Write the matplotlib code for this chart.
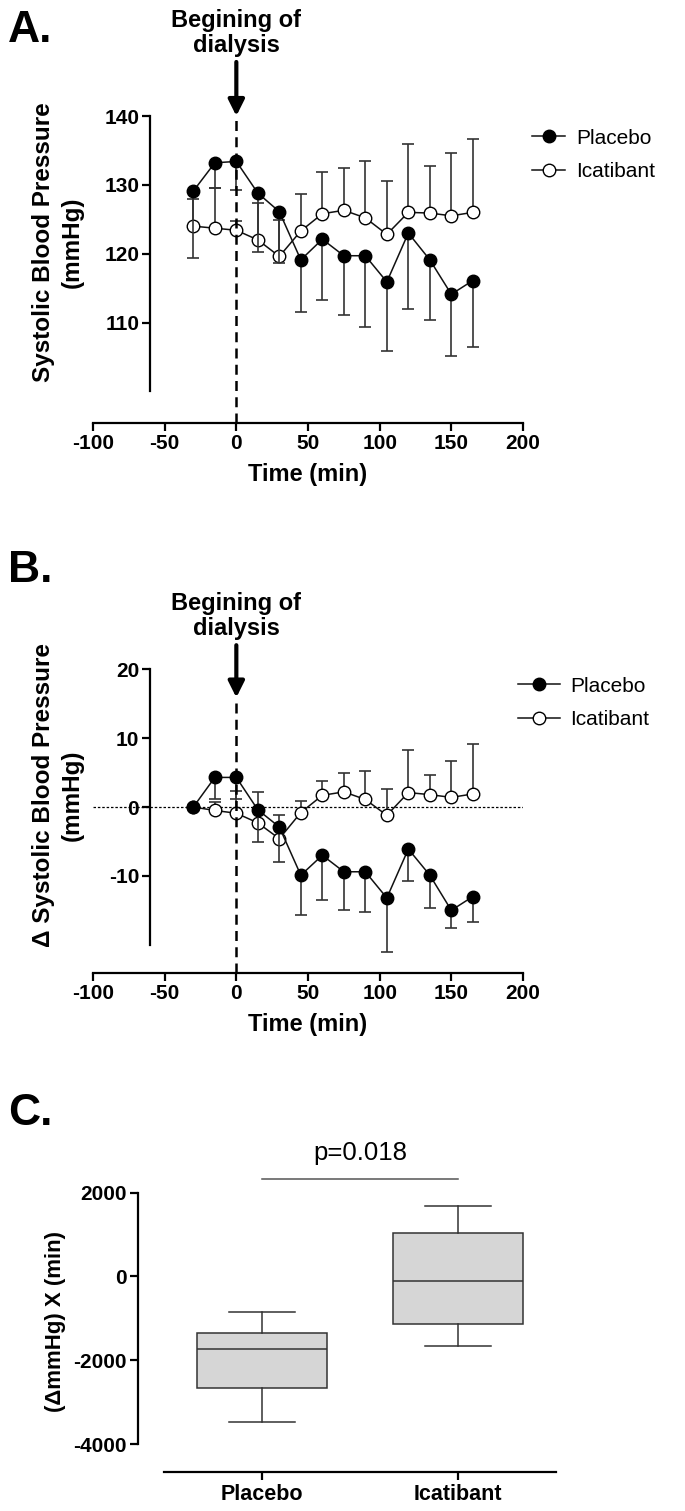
import numpy as np
import matplotlib
matplotlib.use("Agg")
import matplotlib.pyplot as plt
from matplotlib.lines import Line2D

plt.rcParams["font.family"] = ["Liberation Sans", "DejaVu Sans"]
plt.rcParams["axes.unicode_minus"] = False

W, H = 685, 1511

time = [-30, -15, 0, 15, 30, 45, 60, 75, 90, 105, 120, 135, 150, 165]

# panel A: systolic blood pressure (mmHg), mean and one-sided error ends
sbp_placebo = [129.1, 133.2, 133.4, 128.8, 126.1, 119.1, 122.1, 119.7, 119.7, 115.9, 123.0, 119.1, 114.1, 116.1]
sbp_placebo_low = [119.4, 129.6, 129.2, 120.3, 118.7, 111.5, 113.3, 111.1, 109.4, 105.9, 111.9, 110.4, 105.1, 106.5]
sbp_icatibant = [124.0, 123.7, 123.4, 122.0, 119.6, 123.3, 125.8, 126.3, 125.2, 122.8, 126.0, 125.9, 125.5, 126.0]
sbp_icatibant_high = [128.0, 129.6, 124.8, 127.3, 124.9, 128.6, 131.9, 132.5, 133.5, 130.5, 135.9, 132.7, 134.6, 136.7]

# panel B: change in systolic blood pressure (mmHg)
dsbp_placebo = [0.0, 4.3, 4.3, -0.4, -2.9, -9.9, -7.0, -9.4, -9.4, -13.2, -6.1, -9.9, -15.0, -13.0]
dsbp_placebo_low = [0.0, 1.2, 1.2, -5.1, -8.0, -15.7, -13.5, -14.9, -15.3, -21.0, -10.7, -14.7, -17.5, -16.7]
dsbp_icatibant = [0.0, -0.5, -0.9, -2.3, -4.6, -0.8, 1.7, 2.2, 1.1, -1.2, 2.1, 1.8, 1.4, 1.9]
dsbp_icatibant_high = [0.0, 0.7, 2.4, 2.2, -1.2, 0.9, 3.8, 5.0, 5.2, 2.6, 8.3, 4.6, 6.7, 9.1]

# panel C: area (dmmHg x min)
groups = ["Placebo", "Icatibant"]
box_whislo = [-3480, -1666]
box_q1 = [-2668, -1134]
box_med = [-1738, -100]
box_q3 = [-1356, 1031]
box_whishi = [-855, 1683]
p_text = "p=0.018"

fig = plt.figure(figsize=(W / 100, H / 100), dpi=100)


def fx(px):
    return px / W


def fy(py):
    return 1 - py / H


def axes_px(left, top, right, bottom):
    return fig.add_axes([left / W, 1 - bottom / H, (right - left) / W, (bottom - top) / H])


ERR = "#333333"
LINE = "#111111"


def style_axes(ax):
    for s in ["top", "right"]:
        ax.spines[s].set_visible(False)
    for s in ["left", "bottom"]:
        ax.spines[s].set_linewidth(1.6)
    ax.tick_params(direction="out", length=6, width=1.6, labelsize=15, pad=2)
    for lab in ax.get_xticklabels() + ax.get_yticklabels():
        lab.set_fontweight("bold")


def timecourse(ax, pl, pl_low, ic, ic_high, ylim, spine, yticks, arrow, text_y):
    z = np.zeros(len(time))
    pl, pl_low, ic, ic_high = map(np.asarray, (pl, pl_low, ic, ic_high))
    ax.errorbar(time, ic, yerr=[z, ic_high - ic], fmt="none", ecolor=ERR,
                elinewidth=1.2, capsize=4.5, capthick=1.2, zorder=2)
    ax.plot(time, ic, "-o", color=LINE, lw=1.1, ms=9, mfc="white", mec="black",
            mew=1.0, zorder=3)
    ax.errorbar(time, pl, yerr=[pl - pl_low, z], fmt="none", ecolor=ERR,
                elinewidth=1.2, capsize=4.5, capthick=1.2, zorder=4)
    ax.plot(time, pl, "-o", color=LINE, lw=1.1, ms=9, mfc="black", mec="black",
            zorder=5)
    ax.set_xlim(-100, 200)
    ax.set_ylim(*ylim)
    ax.vlines(0, ylim[0], arrow[1], colors="black", linestyles=(0, (4, 2.5)),
              lw=1.8, zorder=6)
    ax.annotate("", xy=(0, arrow[1]), xytext=(0, arrow[0]), annotation_clip=False,
                arrowprops=dict(arrowstyle="-|>", lw=3, color="black",
                                mutation_scale=24, shrinkA=0, shrinkB=0))
    ax.text(0, text_y, "Begining of\ndialysis", ha="center", va="bottom",
            fontsize=17, fontweight="bold", clip_on=False, linespacing=1.1)
    ax.spines["left"].set_position(("data", -60))
    ax.spines["left"].set_bounds(*spine)
    ax.spines["bottom"].set_bounds(-100, 200)
    ax.set_yticks(yticks)
    ax.set_xticks(range(-100, 201, 50))
    style_axes(ax)
    ax.set_xlabel("Time (min)", fontsize=17, fontweight="bold", labelpad=7)
    handles = [Line2D([], [], color=LINE, lw=1.1, marker="o", ms=9, mfc="black", mec="black"),
               Line2D([], [], color=LINE, lw=1.1, marker="o", ms=9, mfc="white", mec="black")]
    return handles


# ---- A ----
axA = axes_px(93, 116, 523, 423)
hA = timecourse(axA, sbp_placebo, sbp_placebo_low, sbp_icatibant, sbp_icatibant_high,
                (95.4, 140), (100, 140), [110, 120, 130, 140], (147.85, 140), 148.6)
axA.legend(hA, groups, loc="center left", bbox_to_anchor=(fx(532), fy(155)),
           bbox_transform=fig.transFigure, frameon=False, fontsize=15,
           handlelength=1.6, handletextpad=0.5, labelspacing=0.7,
           borderpad=0, borderaxespad=0)
fig.text(fx(8), fy(42), "A.", fontsize=32, fontweight="bold", va="baseline")
fig.text(fx(58), fy(242), "Systolic Blood Pressure\n(mmHg)", rotation=90,
         ha="center", va="center", multialignment="center", fontsize=17.5,
         fontweight="bold", linespacing=1.3)

# ---- B ----
axB = axes_px(93, 669.3, 523, 973)
hB = timecourse(axB, dsbp_placebo, dsbp_placebo_low, dsbp_icatibant, dsbp_icatibant_high,
                (-24.1, 20), (-20, 20), [-10, 0, 10, 20], (23.5, 15.9), 24.3)
axB.axhline(0, color="black", lw=0.9, ls=(0, (2, 1.5)), zorder=1)
axB.legend(hB, groups, loc="center left", bbox_to_anchor=(fx(518), fy(703)),
           bbox_transform=fig.transFigure, frameon=False, fontsize=15,
           handlelength=2.0, handletextpad=0.5, labelspacing=0.7,
           borderpad=0, borderaxespad=0)
fig.text(fx(8), fy(582), "B.", fontsize=32, fontweight="bold", va="baseline")
fig.text(fx(58), fy(795), "\u0394 Systolic Blood Pressure\n(mmHg)", rotation=90,
         ha="center", va="center", multialignment="center", fontsize=17.5,
         fontweight="bold", linespacing=1.3)

# ---- C ----
axC = axes_px(137.7, 1192.7, 556, 1472)
stats = [dict(label=g, whislo=lo, q1=a, med=m, q3=b, whishi=hi)
         for g, lo, a, m, b, hi in zip(groups, box_whislo, box_q1, box_med, box_q3, box_whishi)]
axC.bxp(stats, positions=[0, 1], widths=0.66, capwidths=0.34, patch_artist=True,
        showfliers=False,
        boxprops=dict(facecolor="#d6d6d6", edgecolor="#333333", lw=1.1),
        medianprops=dict(color="#333333", lw=1.1),
        whiskerprops=dict(color="#333333", lw=1.1),
        capprops=dict(color="#333333", lw=1.1))
axC.set_xlim(-0.634, 1.5)
axC.set_ylim(-4666, 2000)
axC.spines["left"].set_bounds(-4000, 2000)
axC.spines["bottom"].set_bounds(-0.5, 1.5)
axC.set_yticks([-4000, -2000, 0, 2000])
axC.set_xticks([0, 1])
axC.set_xticklabels(groups)
style_axes(axC)
axC.tick_params(axis="x", labelsize=15.5, pad=3)
axC.plot([0, 1], [2327, 2327], color="#555555", lw=1.1, clip_on=False)
axC.text(0.5, 2780, p_text, ha="center", va="baseline", fontsize=18.5, clip_on=False)
fig.text(fx(8), fy(1125), "C.", fontsize=32, fontweight="bold", va="baseline")
fig.text(fx(55), fy(1321), "(\u0394mmHg) X (min)", rotation=90, ha="center",
         va="center", fontsize=16, fontweight="bold")

fig.savefig("out.png", dpi=100)
